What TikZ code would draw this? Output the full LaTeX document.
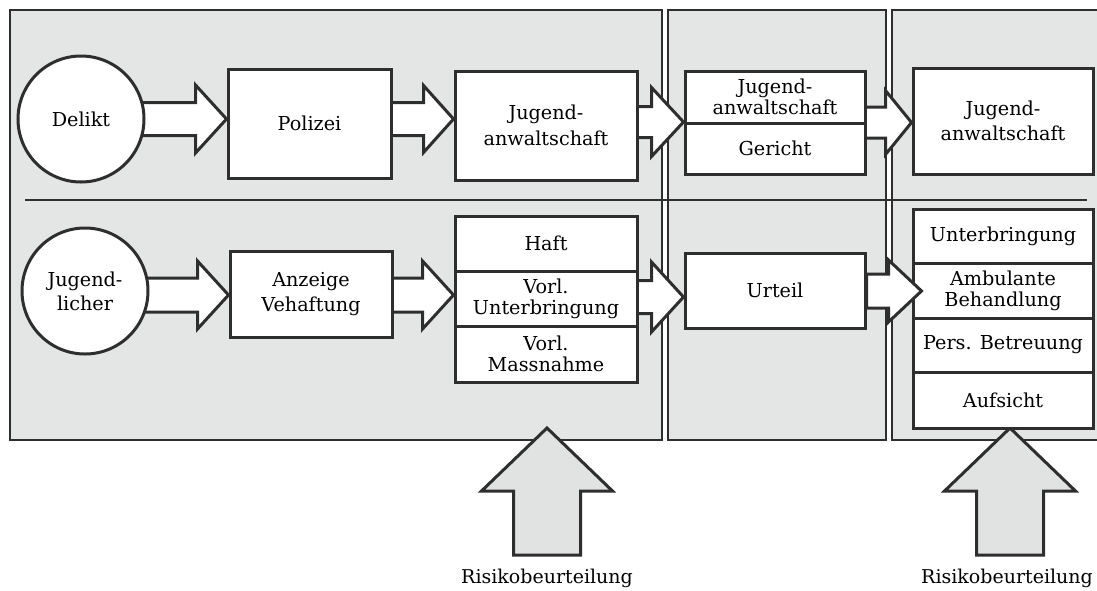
\documentclass[tikz,border=0pt]{standalone}
\usepackage{fontspec}
\setmainfont{DejaVu Serif}
\usetikzlibrary{calc}
\pgfdeclarelayer{bg}
\pgfdeclarelayer{arr}
\pgfdeclarelayer{fg}
\pgfsetlayers{bg,arr,main,fg}
\definecolor{panelgray}{HTML}{E4E6E6}
\definecolor{arrowgray}{HTML}{E1E3E3}
\definecolor{ink}{HTML}{2E2E2E}
\tikzset{
  panel/.style={fill=panelgray, draw=ink, line width=2.6pt},
  divider/.style={draw=ink, line width=2.5pt},
  box/.style={draw=ink, fill=white, line width=3pt, align=center, inner sep=0pt,
    font=\fontsize{19.2}{25.5}\selectfont},
  tightbox/.style={box, font=\fontsize{19.2}{21}\selectfont},
  roundbox/.style={box, circle, minimum size=126pt},
  blockarrow/.style={draw=ink, fill=white, line width=3pt, line join=miter},
  riskarrow/.style={draw=ink, fill=arrowgray, line width=3pt, line join=miter},
  risklabel/.style={font=\fontsize{19}{22}\selectfont, inner sep=0pt}
}
% [#1 source anchor] #2 source node, #3 target node, #4 tip y, #5 half shaft,
% #6 half head, #7 head length, #8 tip shift
\newcommand\flowarrow[8][center]{%
  \coordinate (#2-#3-y) at (0,#4);
  \coordinate (#2-#3-tip) at ($(#3.west |- #2-#3-y)+(#8,0)$);
  \coordinate (#2-#3-start) at (#2.#1 |- #2-#3-y);
  \draw[blockarrow] ($(#2-#3-start)+(0,-#5)$)
    -- ($(#2-#3-tip)+(-#7,-#5)$) -- ($(#2-#3-tip)+(-#7,-#6)$) -- (#2-#3-tip)
    -- ($(#2-#3-tip)+(-#7,#6)$) -- ($(#2-#3-tip)+(-#7,#5)$)
    -- ($(#2-#3-start)+(0,#5)$) -- cycle;}
% #1 tip coordinate
\newcommand\riskup[1]{%
  \draw[riskarrow] (#1) -- ++(65.5,63) -- ++(-32,0) -- ++(0,64) -- ++(-67,0)
    -- ++(0,-64) -- ++(-32,0) -- cycle;}
\begin{document}
\begin{tikzpicture}[x=1pt,y=-1pt]
\useasboundingbox (0,0) rectangle (1097,590);

% nodes
\node[roundbox] (delikt) at (81,119) {Delikt};
\node[box, minimum width=163pt, minimum height=109pt] (polizei) at (309.5,123.5) {Polizei};
\node[box, minimum width=182pt, minimum height=109pt] (ja1) at (546,125.5) {Jugend-\\anwaltschaft};
\node[tightbox, minimum width=180pt, minimum height=52pt] (ja2) at (775,97) {Jugend-\\anwaltschaft};
\node[box, minimum width=180pt, minimum height=51pt] (gericht) at (775,148.5) {Gericht};
\node[box, minimum width=180pt, minimum height=106pt] (ja3) at (1003,121) {Jugend-\\anwaltschaft};

\node[roundbox, font=\fontsize{19.2}{24}\selectfont] (jugendl) at (85,291) {Jugend-\\licher};
\node[box, minimum width=162pt, minimum height=86pt] (anzeige) at (311,294) {Anzeige\\Vehaftung};
\node[box, minimum width=182pt, minimum height=55pt] (haft) at (546,243.5) {Haft};
\node[tightbox, minimum width=182pt, minimum height=55pt] (vunt) at (546,298.5) {Vorl.\\Unterbringung};
\node[tightbox, minimum width=182pt, minimum height=56pt] (vmass) at (546,354) {Vorl.\\Massnahme};
\node[box, minimum width=180pt, minimum height=75pt] (urteil) at (775,290.5) {Urteil};
\node[box, minimum width=180pt, minimum height=54pt] (unt) at (1003,236) {Unterbringung};
\node[tightbox, minimum width=180pt, minimum height=55pt] (amb) at (1003,290.5) {Ambulante\\Behandlung};
\node[box, minimum width=180pt, minimum height=54pt] (pers) at (1003,345) {Pers. Betreuung};
\node[box, minimum width=180pt, minimum height=56pt] (aufs) at (1003,400) {Aufsicht};

\node[risklabel] (risk1) at (547,578) {Risikobeurteilung};
\node[risklabel] (risk2) at (1007,578) {Risikobeurteilung};

% panels
\begin{pgfonlayer}{bg}
  \draw[panel] (10,10) rectangle (662,440);
  \draw[panel] (668,10) rectangle (886,440);
  \draw[panel] (892,10) rectangle (1110,440);
  \draw[divider] (25,200) -- (1087,200);
\end{pgfonlayer}

% arrows
\begin{pgfonlayer}{arr}
  \flowarrow{delikt}{polizei}{119}{16.5}{34}{31}{0}
  \flowarrow{polizei}{ja1}{119}{16.5}{33.5}{30}{0}
  \flowarrow{ja1}{ja2}{122}{15.5}{34.5}{32}{0}
  \flowarrow{ja2}{ja3}{122.5}{15.5}{32}{26}{0}
  \flowarrow{jugendl}{anzeige}{295}{17}{34}{31}{0}
  \flowarrow{anzeige}{vunt}{295}{17}{34}{31}{0}
  \flowarrow{vunt}{urteil}{297}{16.5}{35}{32}{0}
  \coordinate (tip1) at (547,428);
  \coordinate (tip2) at (1010,428);
  \riskup{tip1}
  \riskup{tip2}
\end{pgfonlayer}
\begin{pgfonlayer}{fg}
  \flowarrow[east]{urteil}{amb}{291}{17}{31}{33}{10}
\end{pgfonlayer}
\end{tikzpicture}
\end{document}
